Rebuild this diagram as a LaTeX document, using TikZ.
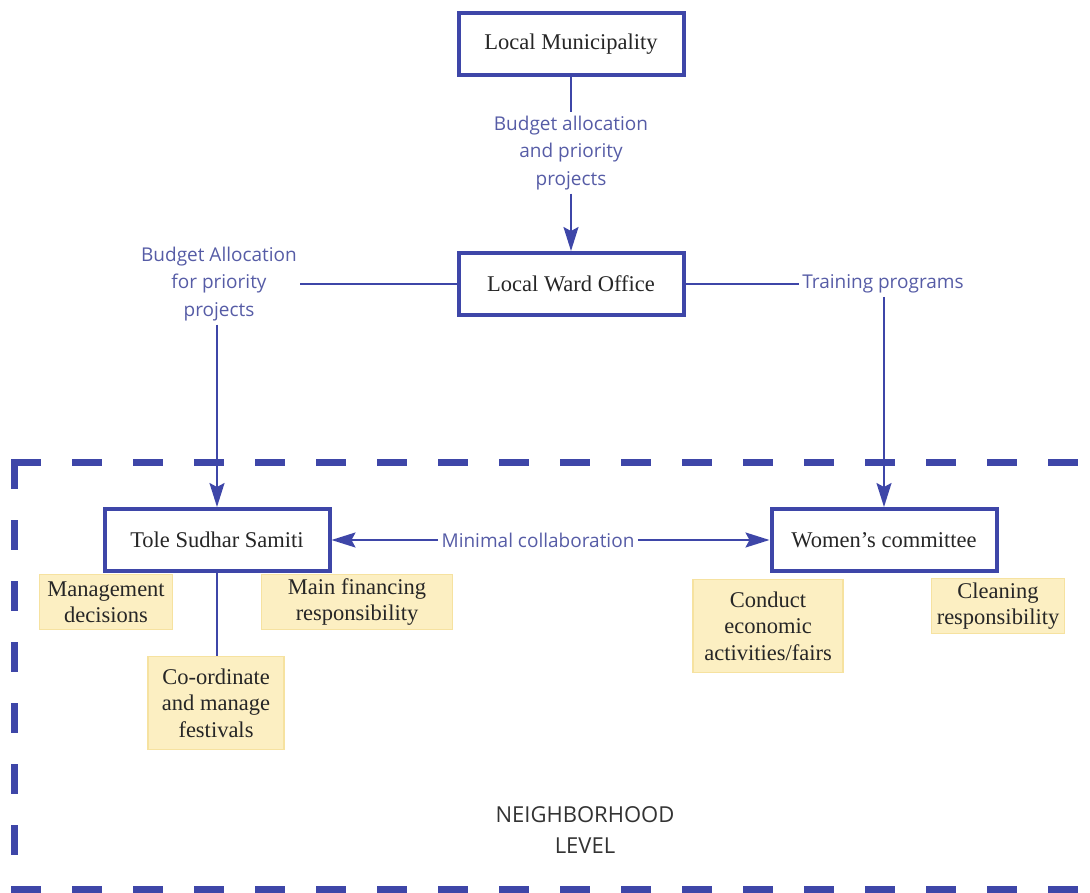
\documentclass[tikz,border=0pt]{standalone}
\usepackage{fontspec}
\setmainfont{Liberation Serif}
\newfontfamily\labelfont{Open Sans}
\usepackage{xcolor}
\usetikzlibrary{arrows.meta}
\definecolor{frameblue}{RGB}{62,70,168}
\definecolor{textblue}{RGB}{86,92,166}
\definecolor{notefill}{RGB}{252,239,194}
\definecolor{noteline}{RGB}{246,226,160}
\tikzset{>={Stealth[length=24pt,width=15pt,inset=4pt]}}

\begin{document}
\begin{tikzpicture}[x=1pt,y=-1pt,
    unit/.style={draw=frameblue, line width=4pt, fill=white, minimum width=225pt,
      minimum height=62pt, text=black!85, font=\fontsize{22.5}{26}\selectfont},
    note/.style={fill=notefill, draw=noteline, line width=1.5pt, align=center,
      inner sep=0pt, text=black!85, font=\fontsize{22.5}{26.5}\selectfont},
    flow/.style={text=textblue, align=center, font=\labelfont\fontsize{19}{27.5}\selectfont},
    link/.style={draw=frameblue, line width=2pt},
    frame/.style={draw=frameblue, line width=7pt, line cap=rect, dash pattern=on 23pt off 38pt}]
      \useasboundingbox (0,0) rectangle (1090,893);
      % neighborhood frame
      \coordinate (nw) at (14,462);
      \coordinate (ne) at (1100,462);
      \coordinate (sw) at (14,889);
      \coordinate (se) at (1100,889);
      \draw[frame] (nw) -- (ne);
      \draw[frame] (nw) -- (sw);
      \draw[frame] (sw) -- (se);
      \node[unit] (muni) at (571,44) {Local Municipality};
      \node[unit] (ward) at (571,284) {Local Ward Office};
      \node[unit] (tole) at (217,540) {Tole Sudhar Samiti};
      \node[unit] (women) at (884,540) {Women's committee};
      \node[flow] (budget) at (571,153) {Budget allocation\\and priority\\projects};
      \node[flow] (alloc) at (219,284) {Budget Allocation\\for priority\\projects};
      \node[flow] (train) at (883,284) {Training programs};
      \node[flow] (collab) at (538,540) {Minimal collaboration};
      \draw[link] (muni) -- (budget);
      \draw[link,->] (budget) -- (ward);
      \draw[link] (ward) -- (ward -| alloc.east);
      \draw[link,->] (alloc.south -| tole) -- (tole);
      \draw[link] (ward) -- (ward -| train.west);
      \draw[link,->] (train.south -| women) -- (women);
      \draw[link,->] (collab) -- (tole);
      \draw[link,->] (collab) -- (women);
      % tasks
      \node[note, minimum width=133pt, minimum height=55pt] (mgmt) at (106,602) {Management\\decisions};
      \node[note, minimum width=191pt, minimum height=55pt] (finance) at (357,602) {Main financing\\responsibility};
      \node[note, minimum width=136pt, minimum height=93pt] (fest) at (216,703) {Co-ordinate\\and manage\\festivals};
      \node[note, minimum width=150pt, minimum height=93pt] (fairs) at (768,626) {Conduct\\economic\\activities/fairs};
      \node[note, minimum width=133pt, minimum height=55pt] (clean) at (998,606) {Cleaning\\responsibility};
      \draw[link, line width=1.5pt] (tole) -- (tole |- fest.north);
      \node[align=center, text=black!80, font=\labelfont\fontsize{22}{31}\selectfont] (level) at (585,830) {NEIGHBORHOOD\\LEVEL};
\end{tikzpicture}
\end{document}
